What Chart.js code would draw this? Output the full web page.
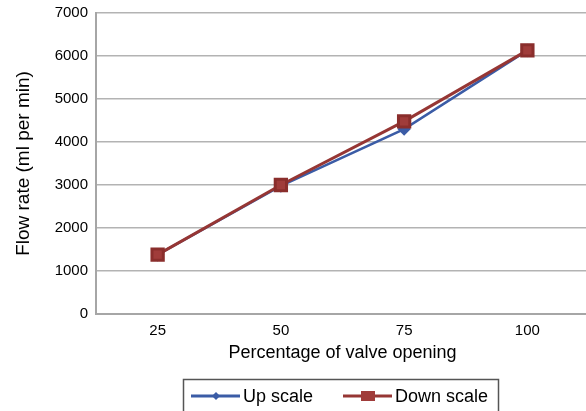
<!DOCTYPE html>
<html>
<head>
<meta charset="utf-8">
<script src="https://cdn.jsdelivr.net/npm/chart.js@4/dist/chart.umd.min.js"></script>
<style>
  html, body { margin: 0; padding: 0; background: #fff; overflow: hidden; }
  #wrap { width: 600px; height: 411px; }
</style>
</head>
<body>
<div id="wrap"><canvas id="flowChart" width="600" height="411"></canvas></div>
<script>
const openings = ['25', '50', '75', '100'];
const upScale = [1380, 2980, 4300, 6130];
const downScale = [1380, 3000, 4480, 6130];
const yTicks = [0, 1000, 2000, 3000, 4000, 5000, 6000, 7000];

const BLUE = '#3b5ca6';
const RED = '#963634';
const FONT = "'Liberation Sans', Arial, Helvetica, sans-serif";

// legend drawn by hand so it can show the line + marker like the original
const boxLegend = {
  id: 'boxLegend',
  afterDraw(chart) {
    const ctx = chart.ctx;
    ctx.save();
    ctx.strokeStyle = '#555';
    ctx.lineWidth = 1.5;
    ctx.strokeRect(183.5, 379.5, 315, 40);

    const items = [
      { ds: chart.data.datasets[0], x: 191 },
      { ds: chart.data.datasets[1], x: 343 }
    ];
    const y = 396;
    items.forEach(it => {
      ctx.strokeStyle = it.ds.borderColor;
      ctx.lineWidth = 3;
      ctx.beginPath();
      ctx.moveTo(it.x, y);
      ctx.lineTo(it.x + 49, y);
      ctx.stroke();
      const cx = it.x + 25;
      ctx.fillStyle = it.ds.pointBackgroundColor;
      if (it.ds.pointStyle === 'rect') {
        ctx.fillRect(cx - 7, y - 5, 14, 10);
      } else {
        ctx.beginPath();
        ctx.moveTo(cx, y - 4);
        ctx.lineTo(cx + 4, y);
        ctx.lineTo(cx, y + 4);
        ctx.lineTo(cx - 4, y);
        ctx.closePath();
        ctx.fill();
      }
      ctx.fillStyle = '#000';
      ctx.font = '18px ' + FONT;
      ctx.textBaseline = 'middle';
      ctx.fillText(it.ds.label, it.x + 52, y + 1);
    });
    ctx.restore();
  }
};

new Chart(document.getElementById('flowChart'), {
  type: 'line',
  data: {
    labels: openings,
    datasets: [
      {
        label: 'Up scale',
        data: upScale,
        borderColor: BLUE,
        backgroundColor: BLUE,
        pointBackgroundColor: BLUE,
        pointBorderColor: BLUE,
        pointStyle: 'rectRot',
        pointRadius: 5,
        borderWidth: 2.5,
        order: 2
      },
      {
        label: 'Down scale',
        data: downScale,
        borderColor: RED,
        backgroundColor: RED,
        pointBackgroundColor: '#a03c3a',
        pointBorderColor: '#8a2e2c',
        pointStyle: 'rect',
        pointRadius: 8,
        borderWidth: 3,
        order: 1
      }
    ]
  },
  options: {
    responsive: false,
    animation: false,
    layout: { padding: { top: 13, right: 8, bottom: 47, left: 0 } },
    plugins: {
      legend: { display: false },
      tooltip: { enabled: false }
    },
    scales: {
      x: {
        offset: true,
        grid: { display: false, drawTicks: false },
        border: { color: '#a6a6a6', width: 2 },
        ticks: { color: '#000', padding: 8, font: { family: FONT, size: 15 } },
        title: {
          display: true,
          text: 'Percentage of valve opening',
          color: '#000',
          padding: { top: 0, bottom: 0 },
          font: { family: FONT, size: 18 }
        },
        afterFit(scale) { scale.height = 50; }
      },
      y: {
        min: 0,
        max: 7000,
        afterBuildTicks(scale) { scale.ticks = yTicks.map(v => ({ value: v })); },
        grid: { color: '#b3b3b3', lineWidth: 1.5, drawTicks: false },
        border: { color: '#a6a6a6', width: 2 },
        ticks: {
          color: '#000',
          padding: 8,
          font: { family: FONT, size: 15 },
          callback: v => String(v)
        },
        title: {
          display: true,
          text: 'Flow rate (ml per min)',
          color: '#000',
          padding: { top: 12, bottom: 0 },
          font: { family: FONT, size: 19 }
        },
        afterFit(scale) {
          scale.width = 96;
          scale.paddingTop = 0;
          scale.paddingBottom = 0;
        }
      }
    }
  },
  plugins: [boxLegend]
});
</script>
</body>
</html>
